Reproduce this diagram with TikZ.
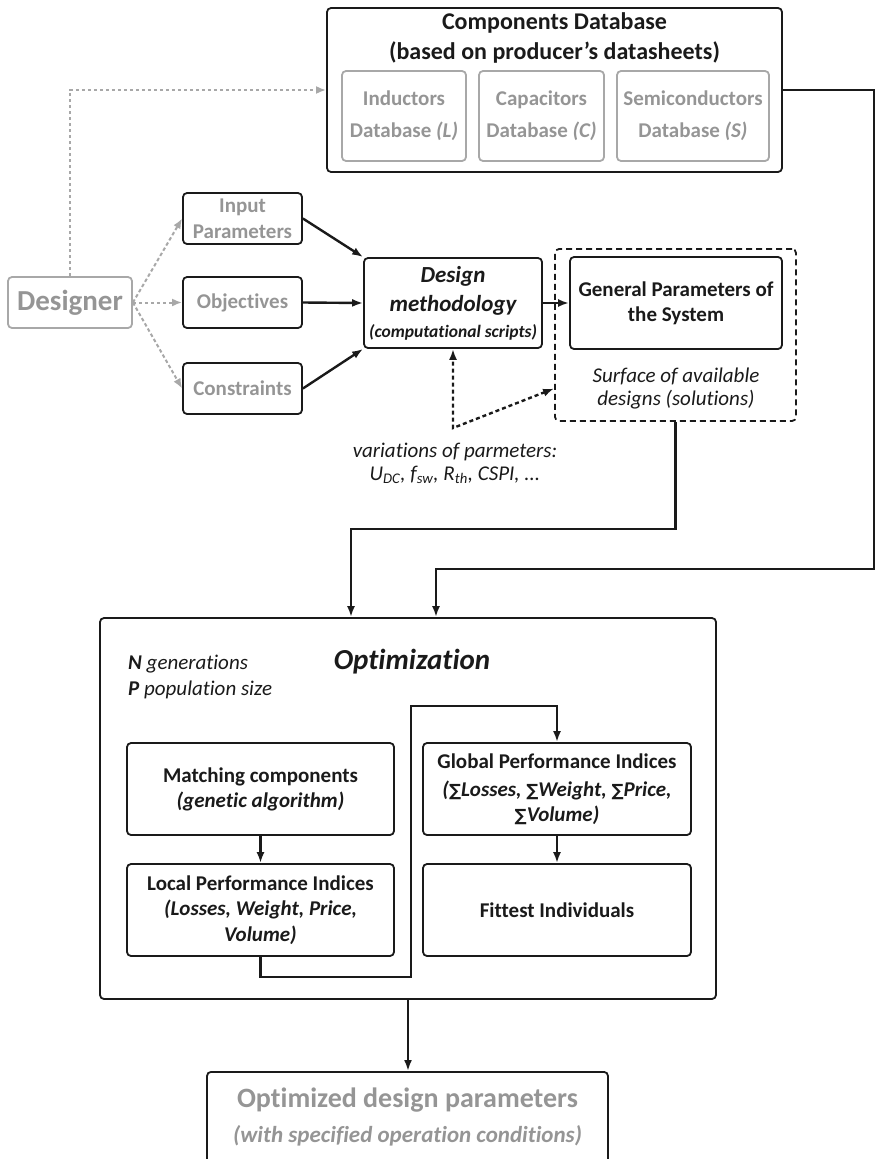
\documentclass[tikz,border=0pt]{standalone}
\usepackage{fontspec}
\setmainfont{Carlito}[Ligatures=NoCommon]
\newfontfamily\sumfont{DejaVu Sans}[Scale=0.8]
\usetikzlibrary{arrows.meta,calc}

\definecolor{ink}{HTML}{1A1A1A}
\definecolor{soft}{HTML}{959595}
\definecolor{softline}{HTML}{A8A8A8}

\newcommand{\fs}[2]{\fontsize{#1}{#2}\selectfont}
\newcommand{\sumsign}{{\sumfont ∑}}

\tikzset{
  box/.style={draw=ink, line width=1.8pt, rounded corners=4pt, align=center, inner sep=0pt, text=ink},
  softbox/.style={box, draw=softline, text=soft},
  link/.style={draw=ink, line width=2.4pt, -{Latex[length=11pt,width=8pt]}},
  softlink/.style={draw=softline, line width=2pt, dash pattern=on 3.5pt off 2.5pt, -{Latex[length=10pt,width=8pt]}},
  dotlink/.style={draw=ink, line width=2.4pt, dash pattern=on 4pt off 3pt,
    {Latex[length=11pt,width=8pt]}-{Latex[length=11pt,width=8pt]}},
  bodytext/.style={text=ink, align=center, inner sep=0pt},
}

\begin{document}
\begin{tikzpicture}[x=1pt, y=-1pt]
\useasboundingbox (0,0) rectangle (876,1159);
\clip (0,0) rectangle (876,1159);

% components database with its three sub-databases
\node[box, minimum width=455, minimum height=164] (comp) at (554.5,90) {};
\node[bodytext, font=\fs{24}{30}\bfseries] (comptitle) at (554.5,38)
  {Components Database\\(based on producer’s datasheets)};
\node[softbox, minimum width=124, minimum height=90, font=\fs{21}{32}\bfseries] (ind) at (404,116)
  {Inductors\\Database \textit{(L)}};
\node[softbox, minimum width=125, minimum height=90, font=\fs{21}{32}\bfseries] (cap) at (541.5,116)
  {Capacitors\\Database \textit{(C)}};
\node[softbox, minimum width=152, minimum height=90, font=\fs{21}{32}\bfseries] (semi) at (693,116)
  {Semiconductors\\Database \textit{(S)}};

% designer and the inputs
\node[softbox, line width=1.8pt, minimum width=124, minimum height=51, font=\fs{29}{34}\bfseries] (designer) at (70,302.5) {Designer};
\node[box, text=soft, minimum width=119, minimum height=51, font=\fs{21}{26}\bfseries] (input) at (242.5,218.5) {Input\\Parameters};
\node[box, text=soft, minimum width=119, minimum height=51, font=\fs{21}{26}\bfseries] (obj) at (242.5,302.5) {Objectives};
\node[box, text=soft, minimum width=119, minimum height=51, font=\fs{21}{26}\bfseries] (cons) at (242.5,388.5) {Constraints};

% design methodology
\node[box, minimum width=178, minimum height=90, font=\fs{23}{29}\bfseries\itshape] (dm) at (453,303)
  {Design\\methodology\\[-3pt]{\fs{17.5}{21}(computational scripts)}};

% surface of available designs
\node[draw=ink, line width=1.8pt, dash pattern=on 6pt off 4pt, rounded corners=4pt,
  minimum width=241, minimum height=172, inner sep=0pt] (surf) at (675.5,335) {};
\node[box, minimum width=212, minimum height=92, font=\fs{21}{25}\bfseries] (gen) at (676,303)
  {General Parameters of\\the System};
\node[bodytext, font=\fs{21}{23}\itshape] (surftext) at (676,388.5)
  {Surface of available\\designs (solutions)};

\node[bodytext, font=\fs{21}{23}\itshape] (vartext) at (455,463.5)
  {variations of parmeters:\\U\textsubscript{DC}, f\textsubscript{sw}, R\textsubscript{th}, CSPI, ...};

% optimization block
\node[box, minimum width=616, minimum height=381] (opt) at (408,808.5) {};
\node[bodytext, font=\fs{29}{34}\bfseries\itshape] (opttitle) at (412,662) {Optimization};
\node[bodytext, align=left, anchor=west, font=\fs{21}{26}\itshape] (popsize) at (128,677)
  {\textbf{N} generations\\\textbf{P} population size};
\node[box, minimum width=267, minimum height=92, font=\fs{21}{25}\bfseries] (match) at (260.5,789)
  {Matching components\\\textit{(genetic algorithm)}};
\node[box, minimum width=268, minimum height=92, font=\fs{21}{25}\bfseries] (global) at (557,789)
  {Global Performance Indices\\[3pt]\textit{(\sumsign Losses, \sumsign Weight, \sumsign Price,}\\\textit{\sumsign Volume)}};
\node[box, minimum width=267, minimum height=92, font=\fs{21}{25.5}\bfseries] (local) at (260.5,910)
  {Local Performance Indices\\\textit{(Losses, Weight, Price,}\\\textit{Volume)}};
\node[box, minimum width=268, minimum height=92, font=\fs{21}{25}\bfseries] (fittest) at (557,910)
  {Fittest Individuals};

% result
\node[box, minimum width=401, minimum height=130, anchor=north] (result) at (407.5,1071) {};
\node[bodytext, text=soft, font=\fs{28}{35}\bfseries] (resulttext) at (407.5,1117)
  {Optimized design parameters\\{\fs{23}{28}\itshape (with specified operation conditions)}};

% connectors
\draw[softlink] (designer.north) |- (comp.west);
\draw[softlink] (designer.east) -- (input.west);
\draw[softlink] (designer.east) -- (obj.west);
\draw[softlink] (designer.east) -- (cons.west);

\draw[link] (input.east) -- (dm.north west);
\draw[link] (obj.east) -- (dm.west);
\draw[link] (cons.east) -- (dm.south west);
\draw[link] (dm.east) -- (gen.west);

\coordinate (vbend) at (453,428);
\draw[dotlink] (surf.west |- surftext) -- (vbend) -- (dm.south);

\coordinate (j1) at (351,529);
\draw[link] (surf.south) |- (j1) -- (j1 |- opt.north);

\coordinate (r1) at (874,569);
\coordinate (j2) at (436,569);
\draw[link] (comp.east) -| (r1) -- (j2) -- (j2 |- opt.north);

\draw[link] (match.south) -- (local.north);
\coordinate (loopbot) at (411,977);
\coordinate (looptop) at (411,706);
\draw[link] (local.south) |- (loopbot) -- (looptop) -| (global.north);
\draw[link] (global.south) -- (fittest.north);

\draw[link] (opt.south) -- (opt.south |- result.north);
\end{tikzpicture}
\end{document}
